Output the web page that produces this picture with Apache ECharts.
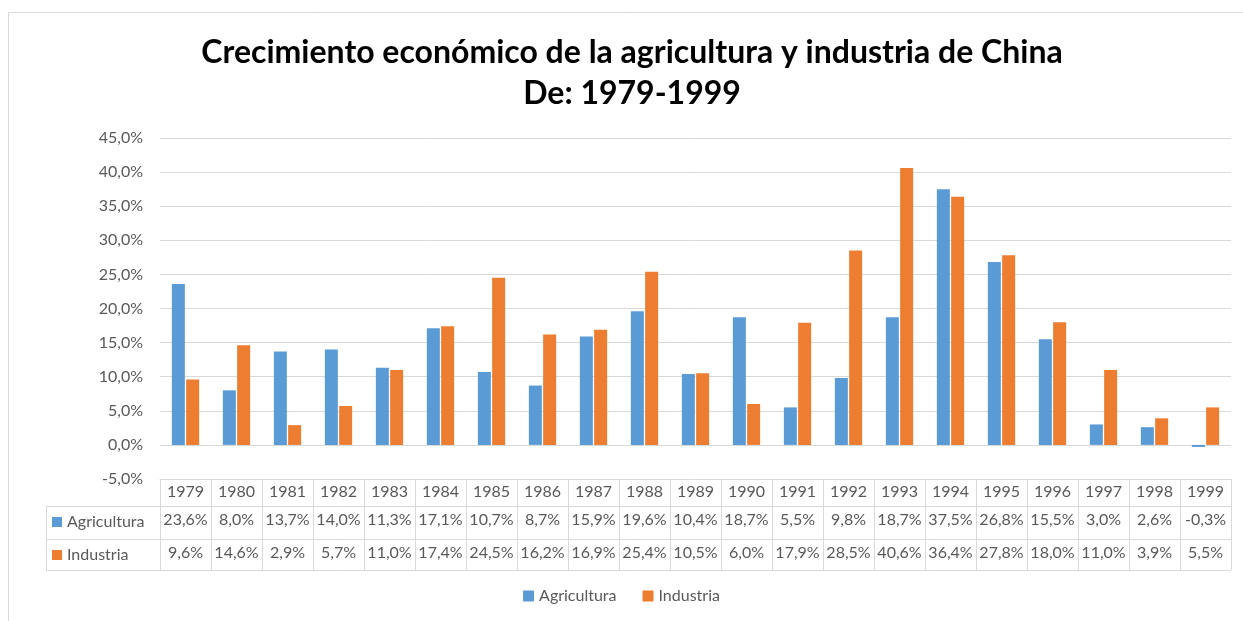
<!DOCTYPE html>
<html>
<head>
<meta charset="utf-8">
<script src="https://cdn.jsdelivr.net/npm/echarts@6/dist/echarts.min.js"></script>
<style>
  html, body { margin: 0; padding: 0; background: #fff; }
  #chart { width: 1243px; height: 621px; }
</style>
</head>
<body>
<div id="chart"></div>
<script>
var years = ['1979','1980','1981','1982','1983','1984','1985','1986','1987','1988','1989',
             '1990','1991','1992','1993','1994','1995','1996','1997','1998','1999'];
var agricultura = [23.6, 8.0, 13.7, 14.0, 11.3, 17.1, 10.7, 8.7, 15.9, 19.6, 10.4,
                   18.7, 5.5, 9.8, 18.7, 37.5, 26.8, 15.5, 3.0, 2.6, -0.3];
var industria = [9.6, 14.6, 2.9, 5.7, 11.0, 17.4, 24.5, 16.2, 16.9, 25.4, 10.5,
                 6.0, 17.9, 28.5, 40.6, 36.4, 27.8, 18.0, 11.0, 3.9, 5.5];

var BLUE = '#5B9BD5', ORANGE = '#ED7D31', GRID = '#D9D9D9', TXT = '#595959';
var FONT = 'Lato, "Open Sans", sans-serif';
var FS = 16;

function pct(v) {
    return v.toFixed(1).replace('.', ',') + '%';
}

var chart = echarts.init(document.getElementById('chart'));

var tableAxis = function (offset, values) {
    return {
        type: 'category',
        data: years,
        position: 'bottom',
        offset: offset,
        axisLine: { show: false },
        axisTick: { show: false },
        axisLabel: {
            interval: 0,
            margin: 6,
            color: TXT,
            fontSize: FS,
            fontFamily: FONT,
            formatter: function (v, i) { return pct(values[i]); }
        }
    };
};

chart.setOption({
    animation: false,
    legend: {
        bottom: 12,
        left: 'center',
        itemWidth: 11,
        itemHeight: 11,
        itemGap: 26,
        icon: 'rect',
        textStyle: { color: TXT, fontSize: FS, fontFamily: FONT },
        data: ['Agricultura', 'Industria']
    },
    grid: { left: 160, right: 12, top: 138, bottom: 142 },
    xAxis: [
        {
            type: 'category',
            data: years,
            position: 'bottom',
            axisLine: { show: true, onZero: false, lineStyle: { color: GRID } },
            axisTick: { show: true, interval: 0, length: 91, lineStyle: { color: GRID } },
            axisLabel: { interval: 0, margin: 5, color: TXT, fontSize: FS, fontFamily: FONT }
        },
        tableAxis(27, agricultura),
        tableAxis(60, industria)
    ],
    yAxis: {
        type: 'value',
        min: -5,
        max: 45,
        interval: 5,
        axisLine: { show: false },
        axisTick: { show: false },
        splitLine: { lineStyle: { color: GRID } },
        axisLabel: {
            color: TXT,
            fontSize: FS,
            fontFamily: FONT,
            margin: 17,
            formatter: function (v) { return pct(v); }
        }
    },
    series: [
        {
            name: 'Agricultura',
            type: 'bar',
            data: agricultura,
            barWidth: 13,
            barGap: '10%',
            itemStyle: { color: BLUE }
        },
        {
            name: 'Industria',
            type: 'bar',
            data: industria,
            barWidth: 13,
            barGap: '10%',
            itemStyle: { color: ORANGE }
        }
    ],
    graphic: [
        { type: 'rect', shape: { x: 8.5, y: 12.5, width: 1240, height: 620 },
          style: { fill: 'none', stroke: GRID, lineWidth: 1 }, silent: true },
        // titulo
        { type: 'text', x: 632, y: 53, style: { text: 'Crecimiento económico de la agricultura y industria de China',
          fill: '#000', font: 'bold 32px ' + FONT, textAlign: 'center', textVerticalAlign: 'middle' } },
        { type: 'text', x: 632, y: 94, style: { text: 'De: 1979-1999',
          fill: '#000', font: 'bold 32px ' + FONT, textAlign: 'center', textVerticalAlign: 'middle' } },
        // tabla de datos
        { type: 'line', shape: { x1: 46, y1: 506.5, x2: 1231, y2: 506.5 }, style: { stroke: GRID } },
        { type: 'line', shape: { x1: 46, y1: 539.5, x2: 1231, y2: 539.5 }, style: { stroke: GRID } },
        { type: 'line', shape: { x1: 46, y1: 570.5, x2: 1231, y2: 570.5 }, style: { stroke: GRID } },
        { type: 'line', shape: { x1: 46.5, y1: 506, x2: 46.5, y2: 570 }, style: { stroke: GRID } },
        { type: 'rect', shape: { x: 52, y: 517, width: 10, height: 10 }, style: { fill: BLUE } },
        { type: 'text', x: 67, y: 522, style: { text: 'Agricultura', fill: TXT, font: FS + 'px ' + FONT, verticalAlign: 'middle' } },
        { type: 'rect', shape: { x: 52, y: 550, width: 10, height: 10 }, style: { fill: ORANGE } },
        { type: 'text', x: 67, y: 555, style: { text: 'Industria', fill: TXT, font: FS + 'px ' + FONT, verticalAlign: 'middle' } }
    ]
});
</script>
</body>
</html>
